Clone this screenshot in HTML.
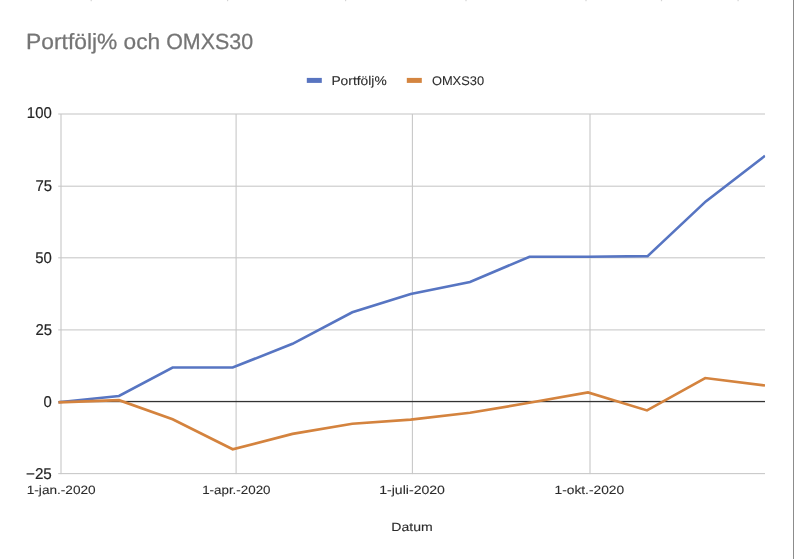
<!DOCTYPE html>
<html lang="sv">
<head>
<meta charset="utf-8">
<title>Portfölj% och OMXS30</title>
<style>
html,body{margin:0;padding:0;background:#fff;}
body{width:794px;height:559px;overflow:hidden;position:relative;}
svg{display:block;position:absolute;left:0;top:0;}
text{font-family:"Liberation Sans",Arial,sans-serif;text-rendering:geometricPrecision;}
</style>
</head>
<body>
<svg width="794" height="559" viewBox="0 0 794 559">
<rect x="0" y="0" width="794" height="559" fill="#ffffff"/>

<rect x="90.6" y="0" width="1.2" height="1.2" fill="#d4d4d4"/>
<rect x="227.0" y="0" width="1.2" height="1.2" fill="#d4d4d4"/>
<rect x="345.0" y="0" width="1.2" height="1.2" fill="#d4d4d4"/>
<rect x="465.4" y="0" width="1.2" height="1.2" fill="#d4d4d4"/>
<rect x="585.4" y="0" width="1.2" height="1.2" fill="#d4d4d4"/>
<rect x="660.9" y="0" width="1.2" height="1.2" fill="#d4d4d4"/>
<rect x="737.5" y="0" width="1.2" height="1.2" fill="#d4d4d4"/>
<rect x="793" y="0" width="1" height="559" fill="#8c8c8c"/>
<rect x="306.8" y="77.9" width="15" height="5" fill="#5874c0"/>
<rect x="406.8" y="77.9" width="15" height="5" fill="#d48540"/>
<rect x="58.2" y="113.45" width="706.8" height="1.1" fill="#c9c9c9"/>
<rect x="58.2" y="185.65" width="706.8" height="1.1" fill="#c9c9c9"/>
<rect x="58.2" y="257.25" width="706.8" height="1.1" fill="#c9c9c9"/>
<rect x="58.2" y="329.35" width="706.8" height="1.1" fill="#c9c9c9"/>
<rect x="58.2" y="473.05" width="706.8" height="1.1" fill="#c9c9c9"/>
<rect x="60.45" y="114" width="1.1" height="360.1" fill="#c8c8c8"/>
<rect x="235.55" y="114" width="1.1" height="360.1" fill="#c8c8c8"/>
<rect x="411.85" y="114" width="1.1" height="360.1" fill="#c8c8c8"/>
<rect x="589.45" y="114" width="1.1" height="360.1" fill="#c8c8c8"/>
<rect x="58.8" y="400.9" width="706.2" height="1.3" fill="#333333"/>
<clipPath id="c"><rect x="57" y="100" width="708.2" height="400"/></clipPath>
<g clip-path="url(#c)" fill="none" stroke-width="2.65" stroke-linejoin="miter" stroke-linecap="butt">
<polyline points="58.4,402.3 119.0,396.0 172.6,367.5 232.7,367.5 292.5,343.8 352.3,312.3 410.7,294.0 470.0,282.0 529.5,256.7 588.0,256.7 647.6,256.1 705.8,201.4 765.0,155.8" stroke="#5775c2"/>
<polyline points="58.4,402.4 119.0,400.2 172.6,419.3 232.7,449.3 292.5,433.9 352.3,423.8 410.7,419.6 470.0,412.8 529.3,402.8 588.0,392.4 647.0,410.4 705.2,378.0 765.0,385.5" stroke="#d4833e"/>
</g>
<text x="26.86" y="118.4" font-size="15.6" fill="#262626" stroke="#262626" stroke-width="0.2" textLength="24.86" lengthAdjust="spacingAndGlyphs">100</text>
<text x="35.38" y="190.6" font-size="15.6" fill="#262626" stroke="#262626" stroke-width="0.2" textLength="16.57" lengthAdjust="spacingAndGlyphs">75</text>
<text x="35.15" y="262.7" font-size="15.6" fill="#262626" stroke="#262626" stroke-width="0.2" textLength="16.57" lengthAdjust="spacingAndGlyphs">50</text>
<text x="35.38" y="334.9" font-size="15.6" fill="#262626" stroke="#262626" stroke-width="0.2" textLength="16.57" lengthAdjust="spacingAndGlyphs">25</text>
<text x="43.44" y="407.0" font-size="15.6" fill="#262626" stroke="#262626" stroke-width="0.2" textLength="8.29" lengthAdjust="spacingAndGlyphs">0</text>
<text x="25.99" y="479.2" font-size="15.6" fill="#262626" stroke="#262626" stroke-width="0.2" textLength="25.83" lengthAdjust="spacingAndGlyphs">−25</text>
<text y="48.9" font-size="22" fill="#757575" stroke="#757575" stroke-width="0.25"><tspan x="26.12" textLength="91.26" lengthAdjust="spacingAndGlyphs">Portfölj%</tspan> <tspan x="123.59" textLength="36.58" lengthAdjust="spacingAndGlyphs">och</tspan> <tspan x="166.20" textLength="86.94" lengthAdjust="spacingAndGlyphs">OMXS30</tspan></text>
<text x="331.42" y="84.6" font-size="12.6" fill="#2c2c2c" stroke="#2c2c2c" stroke-width="0.1" textLength="55.29" lengthAdjust="spacingAndGlyphs">Portfölj%</text>
<text x="431.90" y="84.6" font-size="12.6" fill="#2c2c2c" stroke="#2c2c2c" stroke-width="0.1" textLength="52.22" lengthAdjust="spacingAndGlyphs">OMXS30</text>
<text x="26.75" y="493.6" font-size="12" fill="#2c2c2c" stroke="#2c2c2c" stroke-width="0.1" textLength="68.89" lengthAdjust="spacingAndGlyphs">1-jan.-2020</text>
<text x="202.16" y="493.6" font-size="12" fill="#2c2c2c" stroke="#2c2c2c" stroke-width="0.1" textLength="68.37" lengthAdjust="spacingAndGlyphs">1-apr.-2020</text>
<text x="379.22" y="493.6" font-size="12" fill="#2c2c2c" stroke="#2c2c2c" stroke-width="0.1" textLength="65.73" lengthAdjust="spacingAndGlyphs">1-juli-2020</text>
<text x="554.54" y="493.6" font-size="12" fill="#2c2c2c" stroke="#2c2c2c" stroke-width="0.1" textLength="69.60" lengthAdjust="spacingAndGlyphs">1-okt.-2020</text>
<text x="391.30" y="530.5" font-size="12" fill="#2c2c2c" stroke="#2c2c2c" stroke-width="0.1" textLength="41.43" lengthAdjust="spacingAndGlyphs">Datum</text>
</svg>
</body>
</html>
